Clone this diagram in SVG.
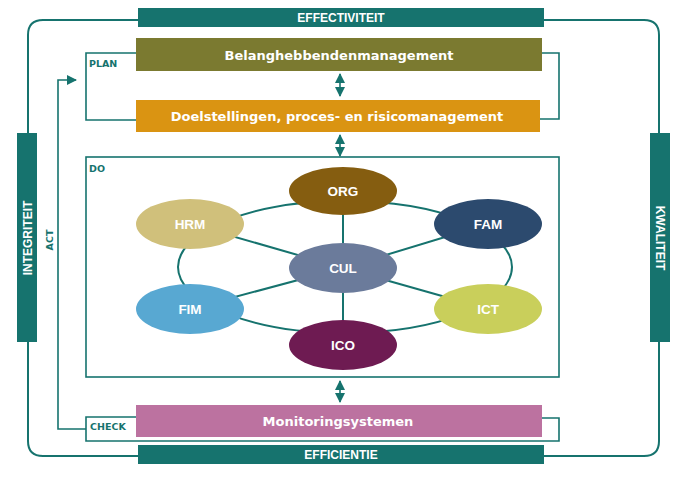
<svg xmlns="http://www.w3.org/2000/svg" width="677" height="479" viewBox="0 0 677 479">
<defs>
<style>
.teal{fill:#16736E}
.ln{fill:none;stroke:#16736E;stroke-width:2}
.br{fill:none;stroke:#16736E;stroke-width:1.6}
.cap{font-family:"Liberation Sans",Arial,sans-serif;font-weight:bold;font-size:12px;fill:#fff;text-anchor:middle}
.bar{font-family:"DejaVu Sans",sans-serif;font-weight:bold;font-size:13px;fill:#fff;text-anchor:middle}
.el{font-family:"Liberation Sans",Arial,sans-serif;font-weight:bold;font-size:13.5px;fill:#fff;text-anchor:middle}
.sm{font-family:"DejaVu Sans",sans-serif;font-weight:bold;font-size:9.5px;fill:#16736E}
</style>
<marker id="ah" viewBox="0 0 10 10" refX="9" refY="5" markerWidth="10" markerHeight="10" markerUnits="userSpaceOnUse" orient="auto-start-reverse">
<path d="M0,0 L10,5 L0,10 Z" fill="#16736E"/>
</marker>
</defs>
<rect width="677" height="479" fill="#fff"/>
<g id="connectors">
<path class="ln" d="M138 20 H43 Q28 20 28 35 V140 M28 335 V441 Q28 456 43 456 H138"/>
<path class="ln" d="M544 20 H644 Q659 20 659 35 V140 M659 335 V441 Q659 456 644 456 H544"/>
<path class="br" d="M136 53 H86 V120 H136"/>
<path class="br" d="M542 53 H559 V119 H540"/>
<path class="br" d="M136 417 H86 V441 H559 V418 H542"/>
<path class="br" d="M86 429 H58 V80 H76" marker-end="url(#ah)"/>
<line class="br" x1="340" y1="74" x2="340" y2="96" marker-start="url(#ah)" marker-end="url(#ah)"/>
<line class="br" x1="340" y1="135" x2="340" y2="156" marker-start="url(#ah)" marker-end="url(#ah)"/>
<line class="br" x1="340" y1="381" x2="340" y2="402" marker-start="url(#ah)" marker-end="url(#ah)"/>
<ellipse class="ln" cx="345" cy="267" rx="167" ry="66"/>
<path class="ln" d="M343 268 L190 224 M343 268 L488 224 M343 268 L190 309 M343 268 L488 309 M343 191 V345"/>
</g>
<g id="effectiviteit"><rect class="teal" x="138" y="8" width="406" height="19"/><text class="cap" x="341" y="22">EFFECTIVITEIT</text></g>
<g id="efficientie"><rect class="teal" x="138" y="445" width="406" height="19"/><text class="cap" x="341" y="459">EFFICIENTIE</text></g>
<g id="integriteit"><rect class="teal" x="17" y="133" width="20" height="209"/><text class="cap" transform="translate(31.5 238) rotate(-90)">INTEGRITEIT</text></g>
<g id="kwaliteit"><rect class="teal" x="650" y="133" width="20" height="209"/><text class="cap" transform="translate(655.5 238) rotate(90)">KWALITEIT</text></g>
<g id="act"><text class="sm" font-size="10" text-anchor="middle" transform="translate(53 240) rotate(-90)">ACT</text></g>
<g id="plan"><text class="sm" x="89" y="67">PLAN</text></g>
<g id="do"><rect class="br" x="86" y="157" width="473" height="220"/><text class="sm" x="89" y="172">DO</text></g>
<g id="check"><text class="sm" font-size="10" x="90" y="430">CHECK</text></g>
<g id="belanghebbenden"><rect x="136" y="38" width="406" height="33" fill="#7B7A30"/><text class="bar" x="339" y="59.5">Belanghebbendenmanagement</text></g>
<g id="doelstellingen"><rect x="136" y="100" width="404" height="32" fill="#DA9412"/><text class="bar" x="337" y="121">Doelstellingen, proces- en risicomanagement</text></g>
<g id="monitoring"><rect x="136" y="405" width="406" height="32" fill="#BC72A0"/><text class="bar" x="338" y="426">Monitoringsystemen</text></g>
<g id="org"><ellipse cx="343" cy="191" rx="54" ry="24" fill="#855D10"/><text class="el" x="343" y="196">ORG</text></g>
<g id="hrm"><ellipse cx="190" cy="224" rx="54" ry="25" fill="#D0C07B"/><text class="el" x="190" y="229">HRM</text></g>
<g id="fam"><ellipse cx="488" cy="224" rx="54" ry="25" fill="#2C4A6E"/><text class="el" x="488" y="229">FAM</text></g>
<g id="cul"><ellipse cx="343" cy="268" rx="54" ry="25" fill="#6B7B9B"/><text class="el" x="343" y="273">CUL</text></g>
<g id="fim"><ellipse cx="190" cy="309" rx="54" ry="25" fill="#58A8D2"/><text class="el" x="190" y="314">FIM</text></g>
<g id="ict"><ellipse cx="488" cy="309" rx="54" ry="25" fill="#C9CF5B"/><text class="el" x="488" y="314">ICT</text></g>
<g id="ico"><ellipse cx="343" cy="345" rx="54" ry="25" fill="#6E1B52"/><text class="el" x="343" y="350">ICO</text></g>
</svg>
